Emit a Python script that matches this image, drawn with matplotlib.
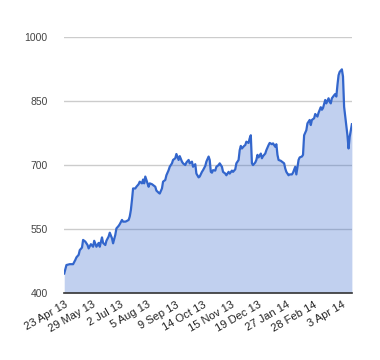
import matplotlib.pyplot as plt

# trading-day index and closing value
day = [0, 2, 5, 8, 10, 11, 13, 14, 16, 17, 19, 21, 22, 24, 26, 27, 29, 31, 32, 34,
       35, 37, 38, 40, 41, 43, 44, 46, 47, 49, 50, 52, 53, 55, 56, 58, 59, 60, 61, 62,
       64, 65, 67, 68, 70, 71, 72, 73, 75, 76, 77, 79, 80, 82, 83, 85, 86, 88, 89, 91,
       92, 94, 95, 97, 98, 100, 101, 103, 104, 106, 107, 109, 110, 112, 113, 115, 116, 118, 119, 121,
       122, 124, 125, 127, 128, 130, 131, 132, 133, 134, 136, 137, 139, 140, 142, 143, 145, 146, 148, 149,
       151, 152, 154, 155, 157, 158, 159, 160, 162, 163, 164, 166, 167, 168, 169, 170, 172, 173, 174, 175,
       177, 178, 179, 181, 182, 184, 185, 187, 188, 190, 191, 192, 193, 195, 196, 198, 199, 200, 202, 203,
       205, 206, 208, 209, 211, 212, 214, 215, 216, 218, 219, 221, 222, 223, 225, 226, 228, 229, 231, 232,
       233, 235, 236, 238, 239, 240, 241, 243, 244, 245, 246, 247, 248, 250, 251, 252, 253, 255, 256, 257,
       259]
price = [445, 465, 467, 467, 477, 483, 489, 500, 506, 524, 520, 512, 504, 514, 508, 522, 508, 517, 508, 530,
         517, 512, 522, 532, 541, 528, 516, 536, 551, 557, 561, 571, 567, 567, 568, 571, 579, 594, 618, 645,
         645, 649, 655, 661, 657, 666, 657, 673, 657, 649, 657, 655, 653, 649, 640, 635, 633, 645, 661, 665,
         676, 688, 696, 704, 712, 716, 726, 712, 721, 708, 704, 700, 706, 712, 704, 708, 696, 702, 680, 671,
         673, 684, 688, 698, 708, 720, 712, 684, 682, 688, 687, 696, 700, 704, 696, 684, 680, 676, 684, 680,
         687, 684, 690, 704, 712, 735, 745, 739, 745, 747, 755, 752, 763, 770, 704, 700, 706, 712, 724, 718,
         727, 716, 721, 727, 735, 747, 752, 749, 751, 743, 749, 724, 712, 710, 708, 704, 692, 684, 676, 678,
         678, 682, 696, 678, 712, 718, 720, 724, 770, 782, 798, 806, 794, 806, 810, 820, 814, 823, 836, 830,
         834, 853, 845, 857, 849, 845, 857, 864, 867, 861, 888, 911, 919, 925, 908, 837, 814, 770, 739, 766,
         796]

tick_days = [0, 25, 50, 75, 100, 125, 150, 175, 200, 225, 250]
tick_labels = ["23 Apr 13", "29 May 13", "2 Jul 13", "5 Aug 13", "9 Sep 13", "14 Oct 13",
               "15 Nov 13", "19 Dec 13", "27 Jan 14", "28 Feb 14", "3 Apr 14"]
y_ticks = [400, 550, 700, 850, 1000]

plt.rcParams['font.family'] = ['Liberation Sans', 'DejaVu Sans']

fig = plt.figure(figsize=(3.8, 3.6), dpi=100)
ax = fig.add_axes([0.169, 0.187, 0.757, 0.709])

ax.fill_between(day, price, 400, color='#3366cc', alpha=0.3, linewidth=0)
ax.plot(day, price, color='#3366cc', linewidth=1.6)

ax.set_xlim(0, 259)
ax.set_ylim(400, 1000)
ax.set_yticks(y_ticks)
ax.set_yticklabels([str(v) for v in y_ticks], color='#444444', fontsize=7.5)
ax.set_xticks(tick_days)
ax.set_xticklabels(tick_labels, rotation=30, ha='right', rotation_mode='anchor',
                   color='#222222', fontsize=8)
ax.tick_params(axis='both', length=0)
ax.tick_params(axis='y', pad=12)
ax.tick_params(axis='x', pad=5)

for v in y_ticks[1:]:
    ax.axhline(v, color='#cccccc', linewidth=1, zorder=0)

for s in ['top', 'right', 'left']:
    ax.spines[s].set_visible(False)
ax.spines['bottom'].set_color('#333333')
ax.spines['bottom'].set_linewidth(1.2)

fig.savefig('out.png', dpi=100)
